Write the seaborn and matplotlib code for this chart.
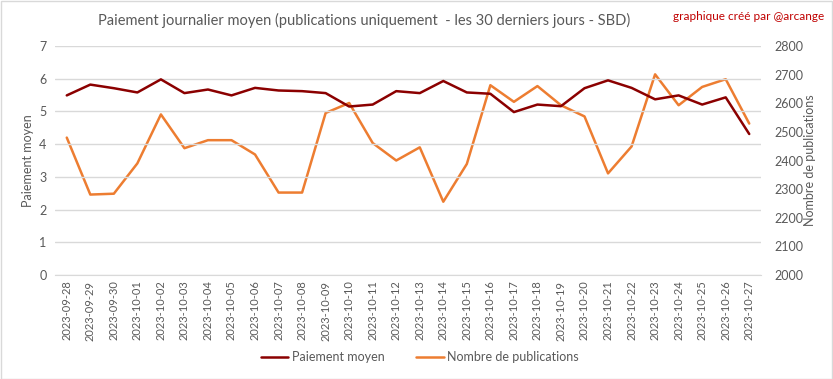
import matplotlib
matplotlib.use("Agg")
import matplotlib.pyplot as plt
import seaborn as sns
import pandas as pd
import numpy as np
from matplotlib.patches import Rectangle

dates = ["2023-09-28", "2023-09-29", "2023-09-30", "2023-10-01", "2023-10-02", "2023-10-03",
         "2023-10-04", "2023-10-05", "2023-10-06", "2023-10-07", "2023-10-08", "2023-10-09",
         "2023-10-10", "2023-10-11", "2023-10-12", "2023-10-13", "2023-10-14", "2023-10-15",
         "2023-10-16", "2023-10-17", "2023-10-18", "2023-10-19", "2023-10-20", "2023-10-21",
         "2023-10-22", "2023-10-23", "2023-10-24", "2023-10-25", "2023-10-26", "2023-10-27"]
paiement = [5.49, 5.82, 5.71, 5.58, 5.98, 5.56, 5.67, 5.49, 5.72, 5.64, 5.62, 5.56,
            5.15, 5.21, 5.62, 5.56, 5.93, 5.58, 5.54, 4.98, 5.21, 5.16, 5.71, 5.95,
            5.72, 5.37, 5.49, 5.21, 5.43, 4.31]
publications = [2480, 2281, 2284, 2390, 2561, 2443, 2471, 2471, 2421, 2288, 2288, 2566,
                2601, 2461, 2400, 2446, 2256, 2388, 2663, 2605, 2660, 2593, 2554, 2355,
                2449, 2701, 2593, 2657, 2684, 2529]

df = pd.DataFrame({"date": dates, "pos": np.arange(len(dates)),
                   "paiement": paiement, "publications": publications})

sns.set_style("white")
plt.rcParams["font.family"] = ["Lato", "DejaVu Sans"]
TXT = "#595959"
RED = "#8B0000"
ORANGE = "#ED7D31"
GRID = "#D9D9D9"

fig = plt.figure(figsize=(8.33, 3.79), dpi=100)
ax = fig.add_axes([55/833, 1-275/379, (761-55)/833, (275-46)/379])
ax2 = ax.twinx()

sns.lineplot(data=df, x="pos", y="publications", ax=ax2, color=ORANGE, lw=1.8,
             label="Nombre de publications", legend=False)
sns.lineplot(data=df, x="pos", y="paiement", ax=ax, color=RED, lw=1.8,
             label="Paiement moyen", legend=False)

ax.set_zorder(ax2.get_zorder() + 1)
ax.patch.set_visible(False)

ax.set_xlim(-0.5, len(dates) - 0.5)
ax.set_ylim(0, 7)
ax2.set_ylim(2000, 2800)
ax.set_yticks(range(0, 8))
ax2.set_yticks(range(2000, 2801, 100))
ax.set_xticks(df["pos"])
ax.set_xticklabels(dates, rotation=90, fontsize=8, color=TXT)
ax.yaxis.grid(True, color=GRID, lw=1)
ax.set_axisbelow(True)
for a in (ax, ax2):
    for s in a.spines.values():
        s.set_visible(False)
ax.spines["bottom"].set_visible(True)
ax.spines["bottom"].set_color(GRID)
ax.tick_params(axis="y", length=0, labelsize=9, colors=TXT, pad=6)
ax.tick_params(axis="x", length=0, pad=4, labelsize=8, colors=TXT)
ax2.tick_params(axis="y", length=0, labelsize=9, colors=TXT, pad=10)
ax.set_xlabel("")
ax.set_ylabel("Paiement moyen", fontsize=9, color=TXT, va="center", ha="center")
ax2.set_ylabel("Nombre de publications", fontsize=9, color=TXT, va="center", ha="center")
ax.yaxis.set_label_coords((28-55)/706, 0.5)
ax2.yaxis.set_label_coords((810-55)/706, 0.5)

fig.text(364/833, 1-20/379, "Paiement journalier moyen (publications uniquement  - les 30 derniers jours - SBD)",
         ha="center", va="center", fontsize=10.5, color=TXT)
fig.text(824/833, 1-17/379, "graphique créé par @arcange", ha="right", va="center",
         fontsize=8.5, color="#C00000")

h1, l1 = ax.get_legend_handles_labels()
h2, l2 = ax2.get_legend_handles_labels()
fig.legend(h1 + h2, l1 + l2, loc="center", bbox_to_anchor=(420/833, 1-357/379), ncol=2,
           frameon=False, fontsize=9, labelcolor=TXT, handlelength=2.2, handletextpad=0.3,
           columnspacing=2.5)

fig.patches.append(Rectangle((0.5/833, 0.5/379), 1-1.5/833, 1-1.5/379, transform=fig.transFigure,
                             fill=False, edgecolor="#D9D9D9", lw=1))

fig.savefig("out.png", dpi=100)
